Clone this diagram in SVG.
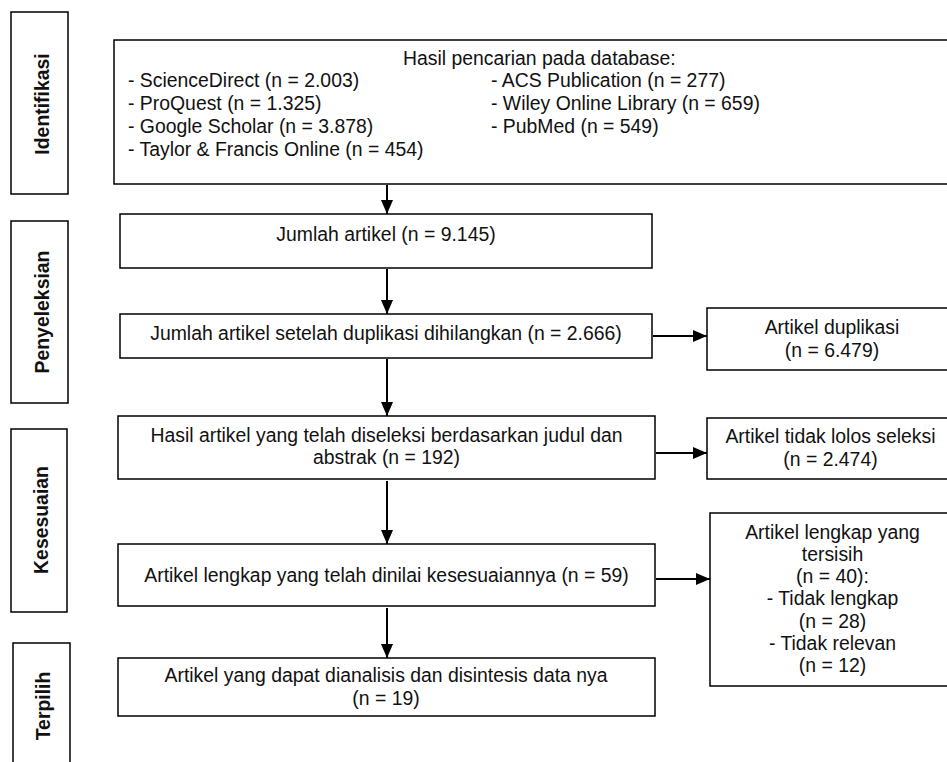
<svg xmlns="http://www.w3.org/2000/svg" width="947" height="762" viewBox="0 0 947 762">
<style>
  .box { fill: #ffffff; stroke: #000000; stroke-width: 1.5; }
  .t { font-family: "Liberation Sans", Arial, sans-serif; font-size: 19.4px; fill: #111111; }
  .c { text-anchor: middle; }
  .lab { font-family: "Liberation Sans", Arial, sans-serif; font-size: 19.4px; font-weight: bold; fill: #111111; text-anchor: middle; }
  .ln { stroke: #000000; stroke-width: 2; fill: none; }
</style>
<defs>
  <marker id="ah" markerUnits="userSpaceOnUse" markerWidth="14" markerHeight="12" refX="14" refY="6" orient="auto">
    <path d="M0,0 L14,6 L0,12 Z" fill="#000000"/>
  </marker>
</defs>
<rect width="947" height="762" fill="#ffffff"/>

<g id="stage-identifikasi">
  <rect class="box" x="11" y="12" width="57" height="182"/>
  <text class="lab" transform="translate(49,104) rotate(-90)">Identifikasi</text>
</g>
<g id="stage-penyeleksian">
  <rect class="box" x="11" y="221" width="57" height="182"/>
  <text class="lab" transform="translate(49,312) rotate(-90)">Penyeleksian</text>
</g>
<g id="stage-kesesuaian">
  <rect class="box" x="11" y="429" width="56" height="183"/>
  <text class="lab" transform="translate(48,520) rotate(-90)">Kesesuaian</text>
</g>
<g id="stage-terpilih">
  <rect class="box" x="13" y="643" width="57" height="130"/>
  <text class="lab" transform="translate(50,706) rotate(-90)">Terpilih</text>
</g>

<g id="node-database">
  <rect class="box" x="114" y="40" width="850" height="144"/>
  <text class="t" x="403" y="65">Hasil pencarian pada database:</text>
  <text class="t" x="128" y="87">- ScienceDirect (n = 2.003)</text>
  <text class="t" x="128" y="110">- ProQuest (n = 1.325)</text>
  <text class="t" x="128" y="133">- Google Scholar (n = 3.878)</text>
  <text class="t" x="128" y="156">- Taylor &amp; Francis Online (n = 454)</text>
  <text class="t" x="491" y="87">- ACS Publication (n = 277)</text>
  <text class="t" x="491" y="110">- Wiley Online Library (n = 659)</text>
  <text class="t" x="491" y="133">- PubMed (n = 549)</text>
</g>

<g id="node-jumlah">
  <rect class="box" x="120" y="214" width="532" height="54"/>
  <text class="t c" x="386" y="241">Jumlah artikel (n = 9.145)</text>
</g>

<g id="node-setelah-duplikasi">
  <rect class="box" x="120" y="314" width="532" height="44"/>
  <text class="t c" x="386" y="340">Jumlah artikel setelah duplikasi dihilangkan (n = 2.666)</text>
</g>

<g id="node-duplikasi">
  <rect class="box" x="707" y="308" width="250" height="62"/>
  <text class="t c" x="832" y="333.5">Artikel duplikasi</text>
  <text class="t c" x="832" y="356.5">(n = 6.479)</text>
</g>

<g id="node-judul-abstrak">
  <rect class="box" x="118" y="416" width="537" height="63"/>
  <text class="t c" x="386.5" y="441.5">Hasil artikel yang telah diseleksi berdasarkan judul dan</text>
  <text class="t c" x="386.5" y="463.5">abstrak (n = 192)</text>
</g>

<g id="node-tidak-lolos">
  <rect class="box" x="707" y="418" width="250" height="61"/>
  <text class="t c" x="830.5" y="442.5">Artikel tidak lolos seleksi</text>
  <text class="t c" x="830.5" y="465.5">(n = 2.474)</text>
</g>

<g id="node-lengkap">
  <rect class="box" x="118" y="544" width="537" height="62"/>
  <text class="t c" x="386.5" y="581.5">Artikel lengkap yang telah dinilai kesesuaiannya (n = 59)</text>
</g>

<g id="node-tersisih">
  <rect class="box" x="710" y="513" width="250" height="173"/>
  <text class="t c" x="832.5" y="538.5">Artikel lengkap yang</text>
  <text class="t c" x="832.5" y="560.8">tersisih</text>
  <text class="t c" x="832.5" y="583.1">(n = 40):</text>
  <text class="t c" x="832.5" y="605.4">- Tidak lengkap</text>
  <text class="t c" x="832.5" y="627.7">(n = 28)</text>
  <text class="t c" x="832.5" y="650">- Tidak relevan</text>
  <text class="t c" x="832.5" y="672.3">(n = 12)</text>
</g>

<g id="node-terpilih">
  <rect class="box" x="118" y="658" width="537" height="58"/>
  <text class="t c" x="386" y="681.5">Artikel yang dapat dianalisis dan disintesis data nya</text>
  <text class="t c" x="386" y="704.5">(n = 19)</text>
</g>

<g id="connectors">
  <line class="ln" x1="387" y1="185" x2="387" y2="214" marker-end="url(#ah)"/>
  <line class="ln" x1="387" y1="269" x2="387" y2="314" marker-end="url(#ah)"/>
  <line class="ln" x1="387" y1="359" x2="387" y2="416" marker-end="url(#ah)"/>
  <line class="ln" x1="387" y1="481" x2="387" y2="544" marker-end="url(#ah)"/>
  <line class="ln" x1="387" y1="608" x2="387" y2="658" marker-end="url(#ah)"/>
  <line class="ln" x1="653" y1="336" x2="707" y2="336" marker-end="url(#ah)"/>
  <line class="ln" x1="656" y1="453" x2="707" y2="453" marker-end="url(#ah)"/>
  <line class="ln" x1="656" y1="579" x2="710" y2="579" marker-end="url(#ah)"/>
</g>
</svg>
